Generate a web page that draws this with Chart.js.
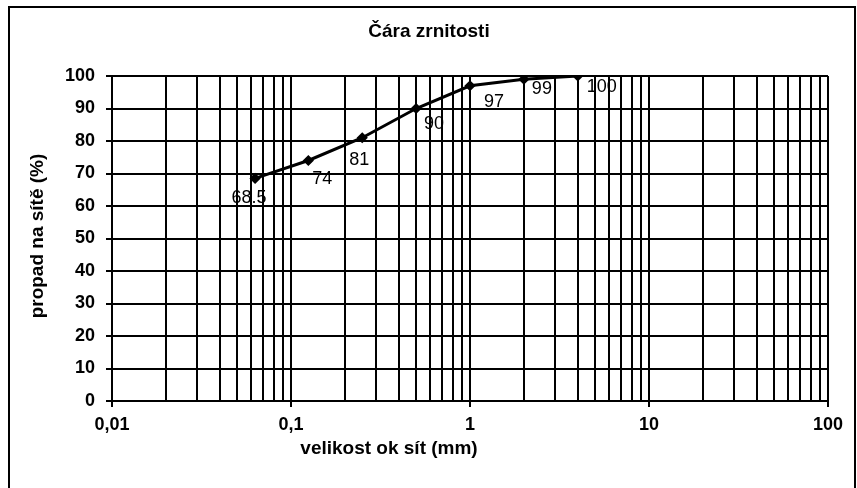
<!DOCTYPE html>
<html>
<head>
<meta charset="utf-8">
<script src="https://cdn.jsdelivr.net/npm/chart.js@4.4.1/dist/chart.umd.min.js"></script>
<style>
  html, body { margin: 0; padding: 0; background: #fff; }
  canvas { display: block; }
</style>
</head>
<body>
<canvas id="myChart" width="857" height="488"></canvas>
<script>
// sieve data (mm / % passing)
const sieveSizes = [0.063, 0.125, 0.25, 0.5, 1, 2, 4];
const passing = [68.5, 74, 81, 90, 97, 99, 100];
const pointLabels = ['68.5', '74', '81', '90', '97', '99', '100'];

const decades = [0.01, 0.1, 1, 10, 100];
const decadeLabels = ['0,01', '0,1', '1', '10', '100'];
const yTicks = [0, 10, 20, 30, 40, 50, 60, 70, 80, 90, 100];

const chartTitle = 'Čára zrnitosti';
const xTitle = 'velikost ok sít (mm)';
const yTitle = 'propad na sítě (%)';

// 1..9 per decade, like the excel log grid
var xTickValues = [];
decades.forEach(function (d, i) {
  if (i == decades.length - 1) { xTickValues.push(d); return; }
  for (var m = 1; m <= 9; m++) xTickValues.push(+(d * m).toPrecision(3));
});

function decadeIndex(v) {
  for (var i = 0; i < decades.length; i++) {
    if (Math.abs(v - decades[i]) < decades[i] * 1e-6) return i;
  }
  return -1;
}

Chart.defaults.color = '#000';
Chart.defaults.font.family = '"Liberation Sans", Arial, sans-serif';

const frameAndTexts = {
  id: 'frameAndTexts',
  beforeDraw(chart) {
    const c = chart.ctx;
    c.save();
    c.fillStyle = '#fff';
    c.fillRect(0, 0, chart.width, chart.height);
    c.strokeStyle = '#000';
    c.lineWidth = 2;
    c.strokeRect(9, 7, 846, 500);
    c.restore();
  },
  afterDraw(chart) {
    const c = chart.ctx;
    c.save();
    c.fillStyle = '#000';
    c.textAlign = 'center';
    c.textBaseline = 'middle';
    c.font = 'bold 19px "Liberation Sans", Arial, sans-serif';
    c.fillText(chartTitle, 429, 32);
    c.fillText(xTitle, 389, 449);
    c.translate(38, 236);
    c.rotate(-Math.PI / 2);
    c.fillText(yTitle, 0, 0);
    c.restore();
  }
};

const valueLabels = {
  id: 'valueLabels',
  afterDatasetsDraw(chart, args, opts) {
    const c = chart.ctx;
    const meta = chart.getDatasetMeta(0);
    c.save();
    c.fillStyle = '#000';
    c.font = '18px "Liberation Sans", Arial, sans-serif';
    c.textAlign = 'center';
    c.textBaseline = 'middle';
    meta.data.forEach(function (pt, i) {
      const n = opts.nudge[i] || [10, 16];
      c.fillText(pointLabels[i], pt.x + n[0], pt.y + n[1]);
    });
    c.restore();
  }
};

new Chart(document.getElementById('myChart'), {
  type: 'line',
  data: {
    datasets: [{
      data: sieveSizes.map(function (x, i) { return { x: x, y: passing[i] }; }),
      borderColor: '#000',
      backgroundColor: '#000',
      borderWidth: 3,
      pointStyle: 'rectRot',
      pointRadius: 3.5,
      tension: 0
    }]
  },
  options: {
    responsive: false,
    animation: false,
    layout: { padding: { top: 76, right: 29, bottom: 0, left: 0 } },
    plugins: {
      legend: { display: false },
      tooltip: { enabled: false },
      valueLabels: {
        nudge: [[-6, 20], [14, 19], [-3, 22], [18, 16], [24, 16], [18, 10], [24, 11]]
      }
    },
    scales: {
      x: {
        type: 'logarithmic',
        min: 0.01,
        max: 100,
        afterBuildTicks: function (scale) {
          scale.ticks = xTickValues.map(function (v) { return { value: v }; });
        },
        afterFit: function (scale) { scale.height = 87; },
        ticks: {
          autoSkip: false,
          maxRotation: 0,
          padding: 7,
          font: { size: 18, weight: 'bold' },
          callback: function (value) {
            var i = decadeIndex(value);
            return i >= 0 ? decadeLabels[i] : '';
          }
        },
        grid: {
          color: '#000',
          lineWidth: 2,
          tickLength: 6,
          tickColor: function (ctx) {
            return ctx.tick && decadeIndex(ctx.tick.value) >= 0 ? '#000' : 'rgba(0,0,0,0)';
          }
        },
        border: { color: '#000', width: 2 }
      },
      y: {
        min: 0,
        max: 100,
        afterBuildTicks: function (scale) {
          scale.ticks = yTicks.map(function (v) { return { value: v }; });
        },
        afterFit: function (scale) { scale.width = 112; },
        ticks: {
          padding: 11,
          font: { size: 18, weight: 'bold' }
        },
        grid: {
          color: '#000',
          lineWidth: 2,
          tickLength: 6
        },
        border: { color: '#000', width: 2 }
      }
    }
  },
  plugins: [frameAndTexts, valueLabels]
});
</script>
</body>
</html>
